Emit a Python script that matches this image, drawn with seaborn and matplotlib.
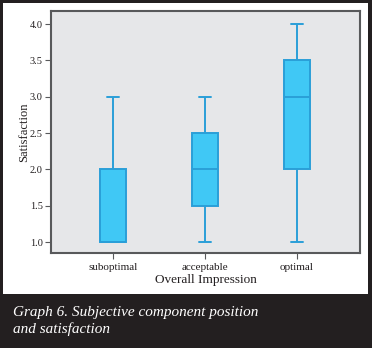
import pandas as pd
import matplotlib
matplotlib.use("Agg")
import matplotlib.pyplot as plt
import matplotlib.patches as mpatches
import seaborn as sns

# Ratings per group (chosen so the quartiles match the published boxes)
categories = ["suboptimal", "acceptable", "optimal"]
suboptimal = [1, 1, 1, 1, 2, 2, 3]
acceptable = [1, 1, 2, 2, 2, 3, 3]
optimal = [1, 2, 2, 3, 3, 4, 4]
y_ticks = [1.0, 1.5, 2.0, 2.5, 3.0, 3.5, 4.0]

df = pd.DataFrame({
    "Overall Impression": ["suboptimal"] * len(suboptimal)
    + ["acceptable"] * len(acceptable)
    + ["optimal"] * len(optimal),
    "Satisfaction": suboptimal + acceptable + optimal,
})

sns.set_style("white")
plt.rcParams["font.family"] = ["Liberation Serif", "DejaVu Serif"]

fig = plt.figure(figsize=(3.72, 3.48), dpi=100, facecolor="#231f20")
# white panel inside the dark frame
panel = mpatches.Rectangle((3 / 372, 54 / 348), 365 / 372, 291 / 348,
                           transform=fig.transFigure, facecolor="white",
                           edgecolor="none", zorder=-5)
fig.patches.append(panel)

ax = fig.add_axes([51 / 372, 95 / 348, 309 / 372, 242 / 348])
ax.set_facecolor("#e6e7e9")
ax.set_zorder(1)

sns.boxplot(data=df, x="Overall Impression", y="Satisfaction", order=categories,
            width=0.28, color="#40c8f5", linecolor="#2a9fd8", linewidth=1.4,
            saturation=1, ax=ax)

ax.set_xlim(-0.674, 2.685)
ax.set_ylim(0.85, 4.18)
ax.set_yticks(y_ticks)
ax.set_yticklabels([f"{v:.1f}" for v in y_ticks])

for side in ["left", "bottom", "top", "right"]:
    ax.spines[side].set_visible(True)
    ax.spines[side].set_color("#58595b")
    ax.spines[side].set_linewidth(1.5)

ax.tick_params(axis="both", direction="out", length=4, width=0.8,
               bottom=True, left=True,
               color="#58595b", labelsize=7.5, labelcolor="#231f20", pad=2)
ax.tick_params(axis="x", labelsize=8, pad=3)
ax.set_xlabel("Overall Impression", fontsize=9.5, color="#231f20", labelpad=2)
ax.set_ylabel("Satisfaction", fontsize=9, color="#231f20", labelpad=0)

fig.text(13 / 372, 1 - 321 / 348,
         "Graph 6. Subjective component position\nand satisfaction",
         color="white", fontsize=11, style="italic", va="center", ha="left",
         linespacing=1.3)

fig.savefig("out.png", dpi=100, facecolor=fig.get_facecolor())
